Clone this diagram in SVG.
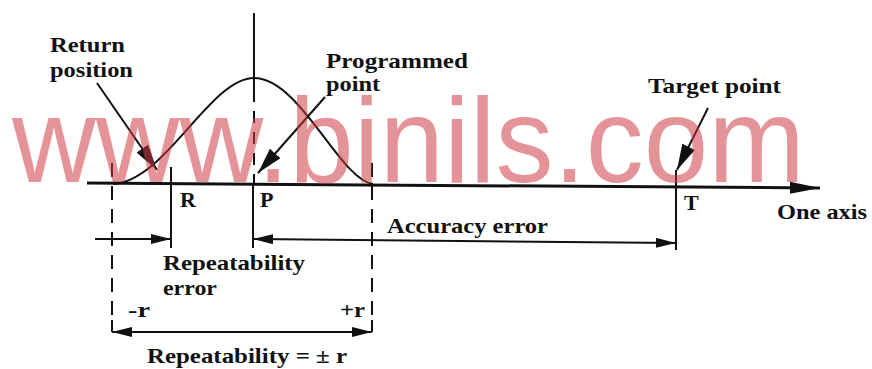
<svg xmlns="http://www.w3.org/2000/svg" width="872" height="369" viewBox="0 0 872 369">
<defs>
<style>
.ln{stroke:#111;fill:none;stroke-width:2}
.ax{stroke:#111;fill:none;stroke-width:3}
.ds{stroke:#111;fill:none;stroke-width:2;stroke-dasharray:14 9}
.t{font-family:"Liberation Serif","Times New Roman",serif;font-weight:bold;font-size:22px;fill:#111}
.wm{font-family:"Liberation Sans",Arial,sans-serif;font-size:120px;fill:rgb(206,60,68);fill-opacity:0.55}
</style>
<marker id="axh" markerUnits="userSpaceOnUse" markerWidth="32" markerHeight="14" refX="30" refY="7" orient="auto"><path d="M0,1 L30,7 L0,13 z" fill="#111"/></marker>
<marker id="dh" markerUnits="userSpaceOnUse" markerWidth="22" markerHeight="12" refX="20" refY="5" orient="auto-start-reverse"><path d="M0,0 L20,5 L0,10 z" fill="#111"/></marker>
<marker id="ph" markerUnits="userSpaceOnUse" markerWidth="28" markerHeight="16" refX="26" refY="7" orient="auto"><path d="M0,0 L26,7 L0,14 z" fill="#111"/></marker>
</defs>
<g id="connectors">
<path id="axis" class="ax" d="M87,183 L820,188" marker-end="url(#axh)"/>
<path id="curve" class="ln" stroke-width="2.5" d="M113,184 C165,182 210,78 254,78 C300,78 340,180 373,184"/>
<path class="ln" d="M254,13 L254,90"/>
<path class="ln" stroke-dasharray="12 9" d="M254,90 L254,184"/>
<path class="ln" d="M253,184 L253,248"/>
<path class="ln" d="M171,167 L171,248"/>
<path class="ln" d="M676,170 L676,250"/>
<path class="ds" d="M112,163 L112,322"/>
<path class="ln" d="M112,320 L112,332"/>
<path class="ds" d="M372,163 L372,322"/>
<path class="ln" d="M372,320 L372,332"/>
<path class="ln" d="M112,332 L372,332" marker-start="url(#dh)" marker-end="url(#dh)"/>
<path class="ln" d="M95,239 L171,239" marker-end="url(#dh)"/>
<path class="ln" d="M253,239 L676,243" marker-start="url(#dh)" marker-end="url(#dh)"/>
<path class="ln" stroke-width="3" d="M97,83 L157,170" marker-end="url(#ph)"/>
<path class="ln" stroke-width="3" d="M325,97 L258,173" marker-end="url(#ph)"/>
<path class="ln" stroke-width="3" d="M708,108 L677,170" marker-end="url(#ph)"/>
</g>
<g id="return-position"><text class="t" x="50" y="52" textLength="75" lengthAdjust="spacingAndGlyphs">Return</text><text class="t" x="50" y="77" textLength="83" lengthAdjust="spacingAndGlyphs">position</text></g>
<g id="programmed-point"><text class="t" x="326" y="68" textLength="142" lengthAdjust="spacingAndGlyphs">Programmed</text><text class="t" x="326" y="91" textLength="54" lengthAdjust="spacingAndGlyphs">point</text></g>
<g id="target-point"><text class="t" x="648" y="93" textLength="133" lengthAdjust="spacingAndGlyphs">Target point</text></g>
<g id="label-R"><text class="t" x="180" y="207">R</text></g>
<g id="label-P"><text class="t" x="260" y="207">P</text></g>
<g id="label-T"><text class="t" x="684" y="210">T</text></g>
<g id="one-axis"><text class="t" x="777" y="219" textLength="90" lengthAdjust="spacingAndGlyphs">One axis</text></g>
<g id="accuracy-error"><text class="t" x="387" y="233" textLength="161" lengthAdjust="spacingAndGlyphs">Accuracy error</text></g>
<g id="repeatability-error"><text class="t" x="163" y="270" textLength="142" lengthAdjust="spacingAndGlyphs">Repeatability</text><text class="t" x="163" y="295" textLength="54" lengthAdjust="spacingAndGlyphs">error</text></g>
<g id="minus-r"><text class="t" x="128" y="317" textLength="22" lengthAdjust="spacingAndGlyphs">-r</text></g>
<g id="plus-r"><text class="t" x="340" y="317" textLength="25" lengthAdjust="spacingAndGlyphs">+r</text></g>
<g id="repeatability"><text class="t" x="147" y="363" textLength="200" lengthAdjust="spacingAndGlyphs">Repeatability = ± r</text></g>
<g id="watermark"><text class="wm" x="12" y="182" textLength="793" lengthAdjust="spacingAndGlyphs">www.binils.com</text></g>
</svg>
